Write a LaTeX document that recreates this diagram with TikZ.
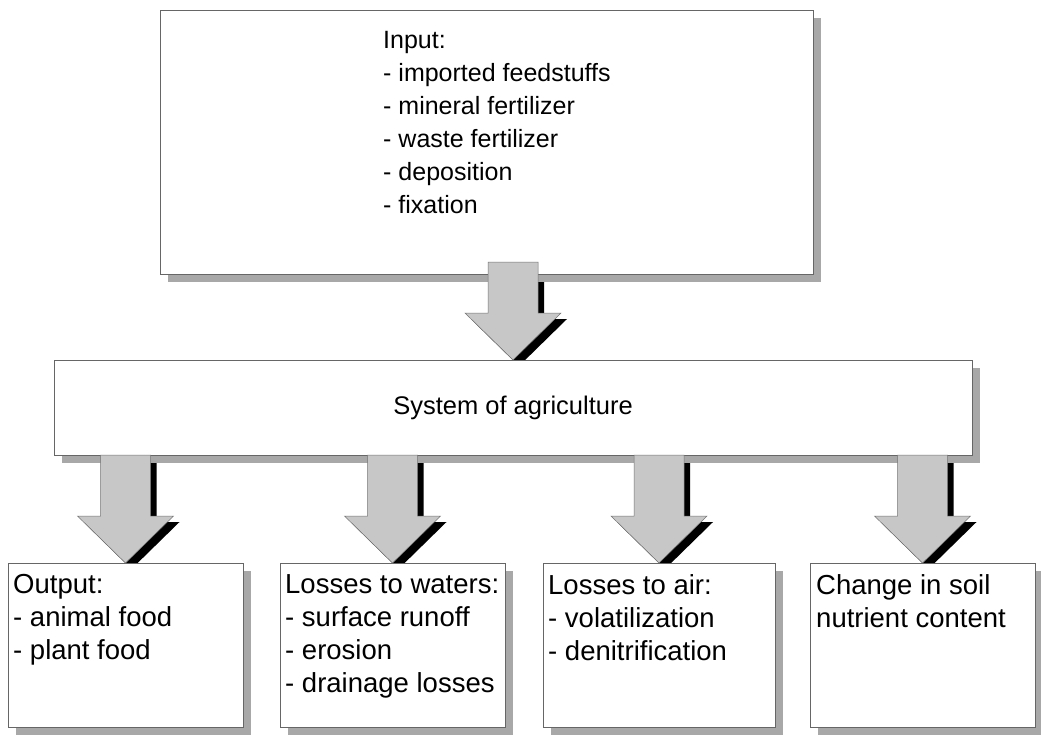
\documentclass[tikz,border=0pt]{standalone}
\usepackage{fontspec}
\setmainfont{Liberation Sans}
\usetikzlibrary{calc,shadows}
\pgfdeclarelayer{background}
\pgfsetlayers{background,main}

\begin{document}
\begin{tikzpicture}[x=1pt,y=-1pt,
  box/.style={draw=black!60, line width=0.5pt, fill=white, anchor=north west,
    inner sep=0pt, outer sep=0pt, font=\fontsize{25.5}{33}\selectfont,
    drop shadow={shadow xshift=8pt, shadow yshift=-8pt, fill=black!34, opacity=1}},
  txt/.style={anchor=north west, inner sep=0pt, align=left,
    font=\fontsize{27.5}{33}\selectfont},
  toptxt/.style={txt, font=\fontsize{25}{33}\selectfont},
  blockarrow/.style={to path={
    let \p1=(\tikztostart), \p2=(\tikztotarget) in
    (\x1-25pt,\y1) -- (\x1+25pt,\y1) -- (\x1+25pt,\y2+47pt) -- (\x1+48pt,\y2+47pt)
    -- (\x2,\y2) -- (\x1-48pt,\y2+47pt) -- (\x1-25pt,\y2+47pt) -- cycle}},
  arrowbody/.style={blockarrow, fill=black!22, draw=black!55, line width=0.5pt},
  arrowshadow/.style={blockarrow, fill=black, transform canvas={shift={(6pt,-6pt)}}}
]
\useasboundingbox (0,0) rectangle (1041,734);

% boxes
\node[box, minimum width=653pt, minimum height=264pt] (input) at (160,10) {};
\node[box, minimum width=918pt, minimum height=95pt] (sys) at (54,360) {System of agriculture};
\node[box, minimum width=235pt, minimum height=164pt] (out)   at (8,563) {};
\node[box, minimum width=225pt, minimum height=164pt] (water) at (280,563) {};
\node[box, minimum width=232pt, minimum height=164pt] (air)   at (543,563) {};
\node[box, minimum width=225pt, minimum height=164pt] (soil)  at (810,563) {};

% box texts
\node[toptxt] (intxt) at ($(input.north west)+(223,21)$)
  {Input:\\- imported feedstuffs\\- mineral fertilizer\\- waste fertilizer\\- deposition\\- fixation};
\node[txt] (outtxt) at ($(out.north west)+(5,11)$) {Output:\\- animal food\\- plant food};
\node[txt] (watertxt) at ($(water.north west)+(5,11)$) {Losses to waters:\\- surface runoff\\- erosion\\- drainage losses};
\node[txt] (airtxt) at ($(air.north west)+(5,11)$) {Losses to air:\\- volatilization\\- denitrification};
\node[txt] (soiltxt) at ($(soil.north west)+(6,11)$) {Change in soil\\nutrient content};

% arrow end points
\coordinate (a0s) at ($(input.south -| sys.north)+(0,-12)$);
\coordinate (a0e) at (sys.north);
\foreach \b in {out,water,air,soil}{
  \coordinate (\b s) at (sys.south -| \b.north);
  \coordinate (\b e) at (\b.north);
}

% arrow shadows behind everything
\begin{pgfonlayer}{background}
  \fill[white] (0,0) rectangle (1041,734);
  \path[arrowshadow] (a0s) to (a0e);
  \foreach \b in {out,water,air,soil}{
    \path[arrowshadow] (\b s) to (\b e);
  }
\end{pgfonlayer}

% block arrows
\path[arrowbody] (a0s) to (a0e);
\foreach \b in {out,water,air,soil}{
  \path[arrowbody] (\b s) to (\b e);
}
\end{tikzpicture}
\end{document}
